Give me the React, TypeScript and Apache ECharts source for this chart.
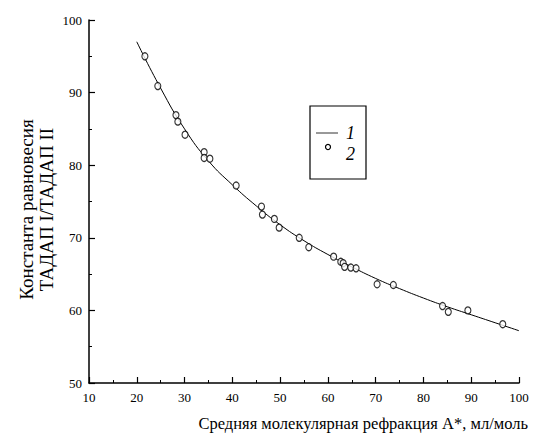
import React, { useEffect, useRef } from "react";
import * as echarts from "echarts";

const xTickLabels = ["10", "20", "30", "40", "50", "60", "70", "80", "90", "100"];
const yTickLabels = ["50", "60", "70", "80", "90", "100"];

// Experimental points (series 2)
const pointX = [21.7, 24.4, 28.2, 28.6, 30.1, 34.1, 34.1, 35.3, 40.8, 46.1, 46.3, 48.8, 49.8, 54.0, 56.0, 61.2, 62.7, 63.2, 63.5, 64.8, 65.9, 70.3, 73.7, 84.0, 85.2, 89.3, 96.6];
const pointY = [95.0, 90.9, 86.9, 86.0, 84.2, 81.8, 81.0, 80.9, 77.2, 74.3, 73.2, 72.6, 71.4, 70.0, 68.7, 67.4, 66.7, 66.5, 66.0, 65.9, 65.8, 63.6, 63.5, 60.6, 59.8, 60.0, 58.1];

// Fitted curve (series 1)
const curveX = [20, 25, 30, 35, 40, 45, 50, 55, 60, 65, 70, 75, 80, 85, 90, 95, 100];
const curveY = [97.0, 90.6, 85.0, 80.6, 77.3, 74.4, 71.8, 69.6, 67.7, 66.0, 64.4, 63.0, 61.7, 60.5, 59.4, 58.3, 57.2];

const legendNames = ["1", "2"];
const yTitle = "Константа равновесия\nТАДАП I/ТАДАП II";
const xTitle = "Средняя молекулярная рефракция А*, мл/моль";

const FONT = "'Liberation Serif', 'DejaVu Serif', serif";

export default function App() {
  const ref = useRef<HTMLDivElement>(null);
  useEffect(() => {
    if (!ref.current) return;
    const chart = echarts.init(ref.current, null, { renderer: "svg" });
    chart.setOption({
      animation: false,
      backgroundColor: "#fff",
      grid: { left: 89, top: 20, right: 16, bottom: 56, containLabel: false },
      xAxis: {
        type: "value",
        min: 10,
        max: 100,
        interval: 10,
        axisLine: { show: true, lineStyle: { color: "#000", width: 1.5 } },
        axisTick: { show: true, inside: true, length: 6, lineStyle: { color: "#000", width: 1.2 } },
        minorTick: { show: true, splitNumber: 2, length: 3, lineStyle: { color: "#000", width: 1 } },
        splitLine: { show: false },
        axisLabel: {
          color: "#000",
          fontFamily: FONT,
          fontSize: 13,
          margin: 8,
          formatter: (v: number) => xTickLabels[Math.round((v - 10) / 10)] ?? "",
        },
      },
      yAxis: {
        type: "value",
        min: 50,
        max: 100,
        interval: 10,
        name: yTitle,
        nameLocation: "middle",
        nameGap: 33,
        nameMoveOverlap: false,
        nameRotate: 90,
        nameTextStyle: { color: "#000", fontFamily: FONT, fontSize: 19, lineHeight: 20, padding: [0, 16, 0, 0] },
        axisLine: { show: true, lineStyle: { color: "#000", width: 1.5 } },
        axisTick: { show: true, inside: true, length: 6, lineStyle: { color: "#000", width: 1.2 } },
        minorTick: { show: true, splitNumber: 2, length: 3, lineStyle: { color: "#000", width: 1 } },
        splitLine: { show: false },
        axisLabel: {
          color: "#000",
          fontFamily: FONT,
          fontSize: 13,
          margin: 7,
          formatter: (v: number) => yTickLabels[Math.round((v - 50) / 10)] ?? "",
        },
      },
      series: [
        {
          name: legendNames[0],
          type: "line",
          smooth: true,
          showSymbol: false,
          data: curveX.map((x, i) => [x, curveY[i]]),
          lineStyle: { color: "#000", width: 1 },
          z: 2,
        },
        {
          name: legendNames[1],
          type: "scatter",
          symbol: "circle",
          symbolSize: [6, 7],
          data: pointX.map((x, i) => [x, pointY[i]]),
          itemStyle: { color: "#fff", borderColor: "#000", borderWidth: 1.2 },
          z: 3,
        },
      ],
      graphic: [
        {
          type: "rect",
          shape: { x: 310, y: 106, width: 56, height: 73 },
          style: { fill: "#fff", stroke: "#000", lineWidth: 1.2 },
        },
        {
          type: "line",
          shape: { x1: 316, y1: 133, x2: 338, y2: 133 },
          style: { stroke: "#333", lineWidth: 1 },
        },
        {
          type: "text",
          x: 346,
          y: 133,
          style: { text: legendNames[0], font: `italic 18px ${FONT}`, fill: "#000", verticalAlign: "middle", align: "left" },
        },
        {
          type: "circle",
          shape: { cx: 328, cy: 147, r: 2.5 },
          style: { fill: "#fff", stroke: "#000", lineWidth: 1.2 },
        },
        {
          type: "text",
          x: 346,
          y: 154,
          style: { text: legendNames[1], font: `italic 18px ${FONT}`, fill: "#000", verticalAlign: "middle", align: "left" },
        },
        {
          type: "text",
          x: 528,
          y: 423,
          style: { text: xTitle, font: `16.5px ${FONT}`, fill: "#000", verticalAlign: "middle", align: "right" },
        },
      ],
    });
    return () => chart.dispose();
  }, []);
  return <div ref={ref} style={{ width: 535, height: 439, position: "absolute", left: 0, top: 0 }} />;
}
